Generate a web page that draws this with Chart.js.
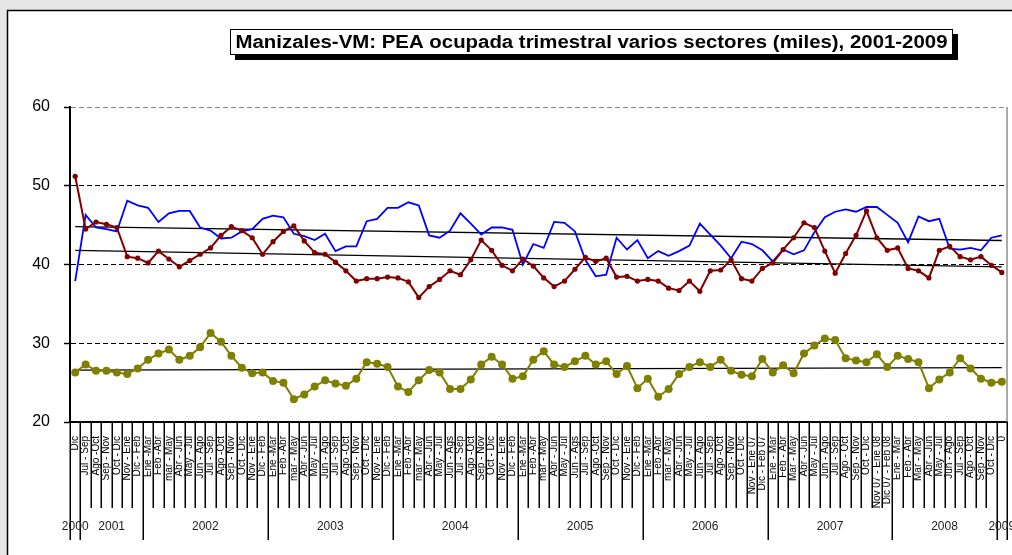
<!DOCTYPE html>
<html>
<head>
<meta charset="utf-8">
<title>Manizales-VM: PEA ocupada trimestral</title>
<script src="https://cdn.jsdelivr.net/npm/chart.js@4.4.1/dist/chart.umd.min.js"></script>
<style>
    html, body { margin: 0; padding: 0; background: #e6e6e6; overflow: hidden; }
    #wrap { width: 1012px; height: 555px; }
</style>
</head>
<body>
<div id="wrap"><canvas id="peaChart" width="1012" height="555"></canvas></div>
<script>
// Chart data
const chartTitle = 'Manizales-VM: PEA ocupada trimestral varios sectores (miles), 2001-2009';

const periodLabels = [
    'Dic',
    'Jul - Sep', 'Ago -Oct', 'Sep - Nov', 'Oct - Dic', 'Nov - Ene', 'Dic - Feb',
    'Ene -Mar', 'Feb -Abr', 'mar - May', 'Abr - Jun', 'May - Jul', 'Jun - Ago', 'Jul - Sep', 'Ago -Oct', 'Sep - Nov', 'Oct - Dic', 'Nov - Ene', 'Dic - Feb',
    'Ene -Mar', 'Feb -Abr', 'mar - May', 'Abr - Jun', 'May - Jul', 'Jun - Ago', 'Jul - Sep', 'Ago -Oct', 'Sep - Nov', 'Oct - Dic', 'Nov - Ene', 'Dic - Feb',
    'Ene -Mar', 'Feb -Abr', 'mar - May', 'Abr - Jun', 'May - Jul', 'Jun - Ags', 'Jul - Sep', 'Ago -Oct', 'Sep - Nov', 'Oct - Dic', 'Nov - Ene', 'Dic - Feb',
    'Ene -Mar', 'Feb -Abr', 'mar - May', 'Abr - Jun', 'May - Jul', 'Jun - Ags', 'Jul - Sep', 'Ago -Oct', 'Sep - Nov', 'Oct - Dic', 'Nov - Ene', 'Dic - Feb',
    'Ene -Mar', 'Feb -Abr', 'mar - May', 'Abr - Jun', 'May - Jul', 'Jun - Ago', 'Jul - Sep', 'Ago -Oct', 'Sep - Nov', 'Oct - Dic', 'Nov - Ene 07', 'Dic - Feb 07',
    'Ene - Mar', 'Feb - Abr', 'Mar - May', 'Abr - Jun', 'May - Jul', 'Jun - Ago', 'Jul - Sep', 'Ago - Oct', 'Sep - Nov', 'Oct - Dic', 'Nov 07 - Ene 08', 'Dic 07 - Feb 08',
    'Ene - Mar', 'Feb - Abr', 'Mar - May', 'Abr - Jun', 'May - Jul', 'Jun - Ago', 'Jul - Sep', 'Ago - Oct', 'Sep - Nov', 'Oct - Dic',
    '0'
];

const yearLabels = ['2000', '2001', '2002', '2003', '2004', '2005', '2006', '2007', '2008', '2009'];
const yearPeriods = [1, 6, 12, 12, 12, 12, 12, 12, 10, 1];

const blueSeries = [
    37.9, 46.3, 44.7, 44.5, 44.2, 48.1, 47.5, 47.2, 45.4, 46.5,
    46.8, 46.8, 44.7, 44.3, 43.3, 43.4, 44.2, 44.5, 45.8, 46.2,
    46.0, 43.9, 43.6, 43.1, 43.9, 41.7, 42.3, 42.3, 45.5, 45.8,
    47.2, 47.2, 47.9, 47.5, 43.7, 43.4, 44.3, 46.5, 45.2, 43.8,
    44.7, 44.7, 44.4, 40.0, 42.6, 42.1, 45.4, 45.3, 44.2, 40.6,
    38.5, 38.7, 43.4, 41.9, 43.1, 40.8, 41.7, 41.1, 41.7, 42.4,
    45.2, 43.8, 42.4, 40.8, 42.9, 42.6, 41.8, 40.4, 41.9, 41.3,
    41.8, 44.1, 46.0, 46.7, 47.0, 46.7, 47.3, 47.3, 46.3, 45.3,
    42.8, 46.1, 45.5, 45.8, 42.0, 41.9, 42.1, 41.8, 43.4, 43.7
];

const redSeries = [
    51.2, 44.5, 45.4, 45.1, 44.7, 41.0, 40.8, 40.2, 41.7, 40.7,
    39.7, 40.5, 41.3, 42.1, 43.7, 44.8, 44.3, 43.4, 41.3, 42.9,
    44.2, 44.9, 43.0, 41.5, 41.3, 40.3, 39.2, 37.9, 38.2, 38.2,
    38.4, 38.3, 37.8, 35.8, 37.2, 38.1, 39.2, 38.7, 40.6, 43.1,
    41.8, 39.9, 39.2, 40.7, 39.8, 38.3, 37.2, 37.9, 39.4, 40.9,
    40.4, 40.8, 38.4, 38.5, 37.9, 38.1, 37.9, 37.0, 36.7, 37.9,
    36.6, 39.2, 39.3, 40.6, 38.2, 37.9, 39.5, 40.2, 41.9, 43.4,
    45.3, 44.7, 41.7, 38.9, 41.4, 43.7, 46.8, 43.4, 41.8, 42.1,
    39.5, 39.2, 38.3, 41.8, 42.3, 41.0, 40.6, 41.0, 39.9, 39.0
];

const oliveSeries = [
    26.3, 27.3, 26.5, 26.5, 26.3, 26.1, 26.8, 27.9, 28.7, 29.2,
    27.9, 28.4, 29.5, 31.3, 30.2, 28.4, 26.9, 26.2, 26.3, 25.2,
    25.0, 22.9, 23.5, 24.5, 25.3, 24.9, 24.6, 25.5, 27.6, 27.4,
    27.0, 24.5, 23.8, 25.3, 26.6, 26.3, 24.2, 24.2, 25.4, 27.3,
    28.3, 27.3, 25.5, 25.8, 27.9, 29.0, 27.3, 27.0, 27.7, 28.4,
    27.3, 27.7, 26.1, 27.1, 24.3, 25.5, 23.2, 24.2, 26.1, 27.0,
    27.6, 27.0, 27.9, 26.5, 26.0, 25.8, 28.0, 26.3, 27.2, 26.2,
    28.7, 29.7, 30.6, 30.4, 28.1, 27.8, 27.6, 28.6, 27.0, 28.4,
    28.0, 27.6, 24.3, 25.4, 26.3, 28.1, 26.8, 25.5, 25.0, 25.1
];

// linear trend lines: value at first and last period
const blueTrend = [44.8, 43.05];
const redTrend = [41.8, 39.7];
const oliveTrend = [26.6, 26.9];

const yTicks = [20, 30, 40, 50, 60];

const FONT = "'Liberation Sans', Arial, Helvetica, sans-serif";

function trendData(ends) {
    // only the two end points, the line is drawn between them
    const arr = periodLabels.map(() => null);
    arr[0] = ends[0];
    arr[arr.length - 1] = ends[1];
    return arr;
}

// grey page, white chart sheet with a black edge
const sheetPlugin = {
    id: 'sheet',
    beforeDraw(chart) {
        const ctx = chart.ctx;
        ctx.save();
        ctx.fillStyle = '#e6e6e6';
        ctx.fillRect(0, 0, chart.width, chart.height);
        ctx.fillStyle = '#ffffff';
        ctx.fillRect(7, 10, chart.width - 7, chart.height - 10);
        ctx.strokeStyle = '#000';
        ctx.lineWidth = 1.5;
        ctx.beginPath();
        ctx.moveTo(7.5, chart.height);
        ctx.lineTo(7.5, 10.5);
        ctx.lineTo(chart.width, 10.5);
        ctx.stroke();
        ctx.restore();
    }
};

// boxed title with drop shadow
const titleBoxPlugin = {
    id: 'titleBox',
    afterDraw(chart) {
        const ctx = chart.ctx;
        const bx = 230, by = 29, bw = 723, bh = 26;
        ctx.save();
        ctx.fillStyle = '#000';
        ctx.fillRect(bx + 5, by + 5, bw, bh);
        ctx.fillStyle = '#fff';
        ctx.fillRect(bx, by, bw, bh);
        ctx.strokeStyle = '#000';
        ctx.lineWidth = 1;
        ctx.strokeRect(bx + 0.5, by + 0.5, bw - 1, bh - 1);

        // text in the original is a bit wider than plain Arial, stretch it
        ctx.font = 'bold 18px ' + FONT;
        const w = ctx.measureText(chartTitle).width;
        const sx = 712 / w;
        ctx.translate(bx + bw / 2, by + bh / 2 + 1);
        ctx.scale(sx, 1);
        ctx.fillStyle = '#000';
        ctx.textAlign = 'center';
        ctx.textBaseline = 'middle';
        ctx.fillText(chartTitle, 0, 0);
        ctx.restore();
    }
};

// period separators, year separators and year labels under the x axis,
// plus the grey right edge of the plot area
const yearAxisPlugin = {
    id: 'yearAxis',
    afterDraw(chart) {
        const ctx = chart.ctx;
        const xs = chart.scales.x;
        const area = chart.chartArea;
        const n = periodLabels.length;
        const step = (xs.right - xs.left) / n;
        const edge = i => xs.left + i * step;

        ctx.save();
        ctx.strokeStyle = '#8c8c8c';
        ctx.lineWidth = 1.5;
        ctx.beginPath();
        ctx.moveTo(area.right, area.top);
        ctx.lineTo(area.right, area.bottom);
        ctx.stroke();

        // boundaries between years
        const yearEdges = [0];
        yearPeriods.forEach(c => yearEdges.push(yearEdges[yearEdges.length - 1] + c));

        ctx.strokeStyle = '#000';
        ctx.lineWidth = 1.5;
        ctx.beginPath();
        for (let i = 0; i <= n; i++) {
            const x = Math.round(edge(i)) + 0.25;
            const long = yearEdges.indexOf(i) !== -1;
            ctx.moveTo(x, area.bottom);
            ctx.lineTo(x, long ? 540 : 508);
        }
        ctx.stroke();

        ctx.fillStyle = '#222';
        ctx.font = '12px ' + FONT;
        ctx.textAlign = 'center';
        ctx.textBaseline = 'middle';
        for (let k = 0; k < yearLabels.length; k++) {
            const mid = (edge(yearEdges[k]) + edge(yearEdges[k + 1])) / 2;
            ctx.fillText(yearLabels[k], mid, 527);
        }
        ctx.restore();
    }
};

const ctx = document.getElementById('peaChart');

new Chart(ctx, {
    type: 'line',
    data: {
        labels: periodLabels,
        datasets: [
            {
                label: 'Serie 2',
                data: redSeries,
                borderColor: '#800000',
                backgroundColor: '#800000',
                borderWidth: 2,
                pointRadius: 2.6,
                pointBorderWidth: 0,
                pointBackgroundColor: '#800000',
                tension: 0
            },
            {
                label: 'Serie 1',
                data: blueSeries,
                borderColor: '#0000ff',
                borderWidth: 1.8,
                pointRadius: 0,
                tension: 0
            },
            {
                label: 'Serie 3',
                data: oliveSeries,
                borderColor: '#808000',
                backgroundColor: '#808000',
                borderWidth: 2,
                pointRadius: 4,
                pointBorderWidth: 0,
                pointBackgroundColor: '#808000',
                tension: 0
            },
            {
                label: 'Tendencia 1',
                data: trendData(blueTrend),
                borderColor: '#000',
                borderWidth: 1.3,
                pointRadius: 0,
                spanGaps: true
            },
            {
                label: 'Tendencia 2',
                data: trendData(redTrend),
                borderColor: '#000',
                borderWidth: 1.3,
                pointRadius: 0,
                spanGaps: true
            },
            {
                label: 'Tendencia 3',
                data: trendData(oliveTrend),
                borderColor: '#000',
                borderWidth: 1.3,
                pointRadius: 0,
                spanGaps: true
            }
        ]
    },
    options: {
        responsive: false,
        maintainAspectRatio: false,
        animation: false,
        devicePixelRatio: 1,
        layout: {
            padding: { top: 107, right: 5, left: 0, bottom: 0 }
        },
        plugins: {
            legend: { display: false },
            title: { display: false },
            tooltip: { enabled: false }
        },
        scales: {
            x: {
                type: 'category',
                offset: true,
                grid: { display: false, drawTicks: false },
                border: { display: true, color: '#000', width: 2 },
                ticks: {
                    autoSkip: false,
                    minRotation: 90,
                    maxRotation: 90,
                    padding: 14,
                    color: '#000',
                    font: { size: 10, family: FONT }
                },
                afterFit: scale => {
                    scale.height = 133;
                    // keep the plot running to the right edge like the original
                    scale.paddingLeft = 0;
                    scale.paddingRight = 0;
                }
            },
            y: {
                min: yTicks[0],
                max: yTicks[yTicks.length - 1],
                afterBuildTicks: scale => {
                    scale.ticks = yTicks.map(v => ({ value: v }));
                },
                grid: {
                    color: c => (c.tick && c.tick.value === 60) ? '#8c8c8c' : '#000',
                    lineWidth: 1,
                    tickColor: '#000',
                    tickLength: 6,
                    tickWidth: 1.5
                },
                border: { color: '#000', width: 2, dash: [5, 3] },
                ticks: {
                    color: '#000',
                    padding: 14,
                    font: { size: 16, family: FONT }
                },
                afterFit: scale => { scale.width = 70; }
            }
        }
    },
    plugins: [sheetPlugin, titleBoxPlugin, yearAxisPlugin]
});
</script>
</body>
</html>
